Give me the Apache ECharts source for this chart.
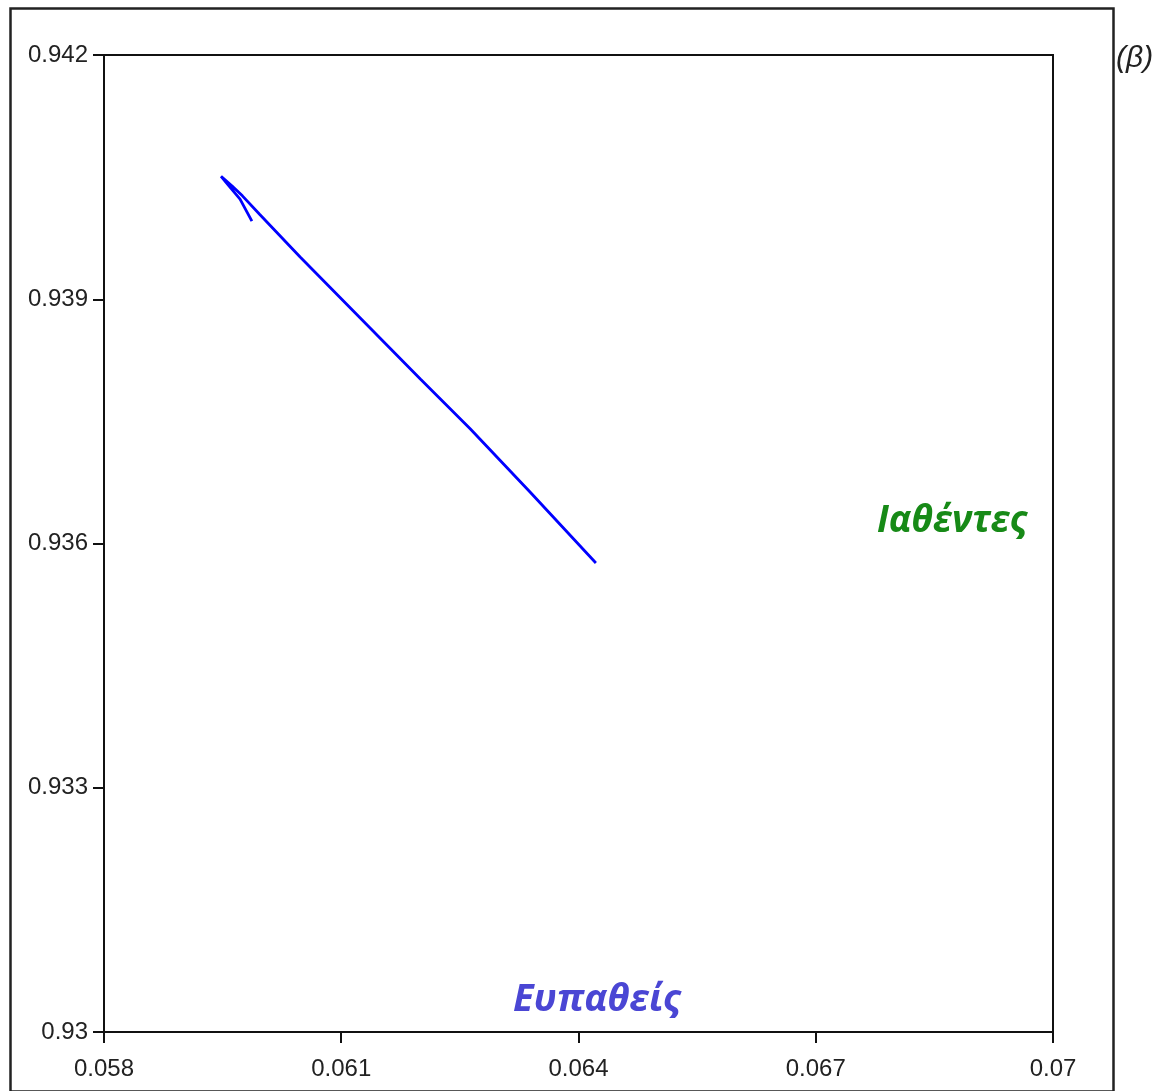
<!DOCTYPE html>
<html>
<head>
<meta charset="utf-8">
<script src="https://cdn.jsdelivr.net/npm/echarts@6/dist/echarts.min.js"></script>
<style>html,body{margin:0;padding:0;background:#fff;}#c{width:1165px;height:1091px;}</style>
</head>
<body>
<div id="c"></div>
<script>
// Phase trajectory: susceptible fraction (x) vs. recovered fraction (y)
const xValues = [0.05987, 0.05972, 0.05959, 0.05948, 0.05962, 0.05975, 0.05997, 0.06048, 0.06124, 0.06200, 0.06263, 0.06339, 0.06422];
const yValues = [0.93996, 0.94023, 0.94038, 0.94051, 0.94039, 0.94027, 0.94004, 0.93952, 0.93877, 0.93802, 0.93741, 0.93663, 0.93576];
const xTicks = [0.058, 0.061, 0.064, 0.067, 0.07];
const yTicks = [0.93, 0.933, 0.936, 0.939, 0.942];
const labelRecovered = 'Ιαθέντες';
const labelSusceptible = 'Ευπαθείς';
const panelTag = '(β)';

const pts = xValues.map((x, i) => [x, yValues[i]]);
const fmt = v => String(+(+v).toFixed(3));
const tickFont = {fontFamily: 'Liberation Sans', fontSize: 24, color: '#222'};

const chart = echarts.init(document.getElementById('c'), null, {renderer: 'canvas'});
chart.setOption({
  animation: false,
  backgroundColor: '#fff',
  grid: {left: 104, top: 55, right: 112, bottom: 59, show: true, borderColor: '#111', borderWidth: 2, backgroundColor: 'transparent'},
  xAxis: {
    type: 'value', min: xTicks[0], max: xTicks[xTicks.length - 1],
    axisLine: {show: true, onZero: false, lineStyle: {color: '#111', width: 2}},
    axisTick: {show: true, length: 11, customValues: xTicks, lineStyle: {color: '#111', width: 2}},
    axisLabel: Object.assign({margin: 25, customValues: xTicks, formatter: fmt}, tickFont),
    splitLine: {show: false}
  },
  yAxis: {
    type: 'value', min: yTicks[0], max: yTicks[yTicks.length - 1],
    axisLine: {show: true, onZero: false, lineStyle: {color: '#111', width: 2}},
    axisTick: {show: true, length: 11, customValues: yTicks, lineStyle: {color: '#111', width: 2}},
    axisLabel: Object.assign({margin: 16, customValues: yTicks, formatter: fmt}, tickFont),
    splitLine: {show: false}
  },
  series: [{
    type: 'line', data: pts, showSymbol: false, symbol: 'none',
    lineStyle: {color: '#0000ff', width: 2.8}, clip: false
  }],
  graphic: [
    {type: 'rect', left: 8, top: 6, z: -1, shape: {width: 1103, height: 1083}, style: {fill: 'none', stroke: '#222', lineWidth: 2.5}},
    {type: 'text', left: 877, top: 503, style: {text: labelRecovered, fill: '#178a17', font: 'italic bold 37px "Open Sans"'}},
    {type: 'text', left: 513, top: 981, style: {text: labelSusceptible, fill: '#4a46d4', font: 'italic bold 38px "Open Sans"'}},
    {type: 'text', left: 1116, top: 44, style: {text: panelTag, fill: '#222', font: 'italic 30px "Liberation Sans"'}}
  ]
});
</script>
</body>
</html>
